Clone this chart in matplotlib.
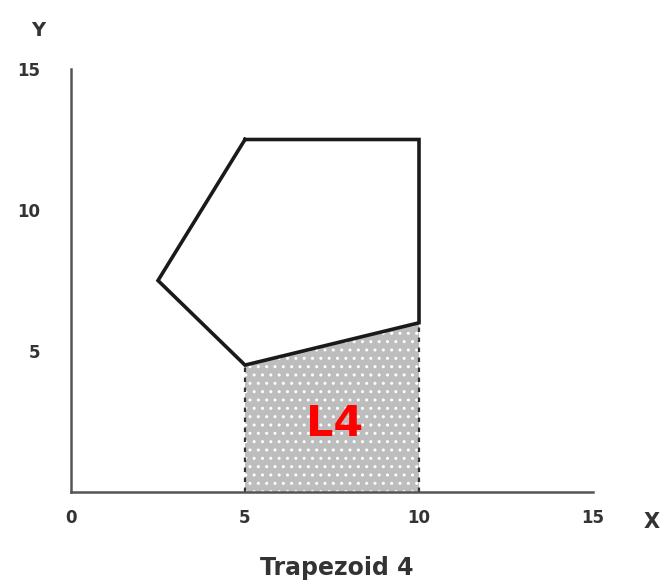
import matplotlib.pyplot as plt

# pentagon outline (x, y)
poly_x = [5, 10, 10, 5, 2.5, 5]
poly_y = [12.5, 12.5, 6, 4.5, 7.5, 12.5]

# shaded trapezoid under the lower edge
trap_x = [5, 10]
trap_top = [4.5, 6]

tick_vals = [0, 5, 10, 15]
tick_labels = ["0", "5", "10", "15"]

W, H = 672, 585
fig = plt.figure(figsize=(W / 100, H / 100), dpi=100)
ax = fig.add_axes([71 / W, 93 / H, 522 / W, 423 / H])

# shaded area
ax.fill_between(trap_x, 0, trap_top, facecolor="#bdbdbd", edgecolor="white",
                hatch="..", linewidth=0, zorder=1)
for xv, yv in zip(trap_x, trap_top):
    ax.plot([xv, xv], [0, yv], color="#333333", lw=1.6, ls=(0, (2, 2.5)), zorder=2)

ax.plot(poly_x, poly_y, color="#1a1a1a", lw=2.6, solid_joinstyle="miter", zorder=3)

ax.text(7.58, 2.4, "L4", color="#ff0000", fontsize=31, fontweight="bold",
        ha="center", va="center", zorder=4)

ax.set_xlim(0, 15)
ax.set_ylim(0, 15)
ax.set_xticks(tick_vals)
ax.set_xticklabels(tick_labels)
ax.set_yticks(tick_vals[1:])
ax.set_yticklabels(tick_labels[1:])
ax.tick_params(length=0, labelsize=12, labelcolor="#333333")
for lbl in ax.get_xticklabels() + ax.get_yticklabels():
    lbl.set_fontweight("bold")
ax.tick_params(axis="x", pad=12)
ax.tick_params(axis="y", pad=22)

for s in ["top", "right"]:
    ax.spines[s].set_visible(False)
for s in ["left", "bottom"]:
    ax.spines[s].set_color("#555555")
    ax.spines[s].set_linewidth(1.8)
ax.set_facecolor("white")

fig.text(38 / W, 1 - 30 / H, "Y", fontsize=14, fontweight="bold", ha="center",
         va="center", color="#333333")
fig.text(652 / W, 1 - 522 / H, "X", fontsize=15, fontweight="bold", ha="center",
         va="center", color="#333333")
fig.text(337 / W, 1 - 568 / H, "Trapezoid 4", fontsize=17, fontweight="bold",
         ha="center", va="center", color="#333333")

fig.savefig("out.png", dpi=100)
